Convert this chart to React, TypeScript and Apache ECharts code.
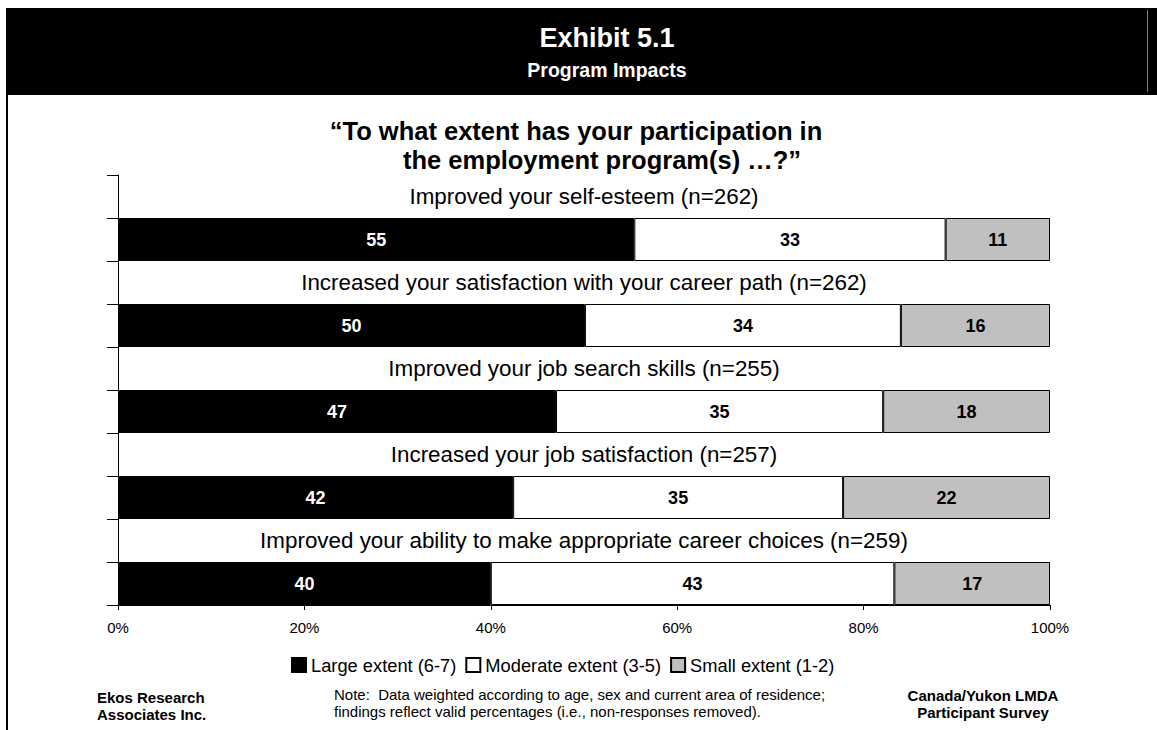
import React, { useEffect, useRef } from "react";
import * as echarts from "echarts";

const categories = [
  "Improved your self-esteem (n=262)",
  "Increased your satisfaction with your career path (n=262)",
  "Improved your job search skills (n=255)",
  "Increased your job satisfaction (n=257)",
  "Improved your ability to make appropriate career choices (n=259)",
];
const largeExtent = [55.4, 50.1, 47.0, 42.4, 40.0];
const moderateExtent = [33.4, 33.9, 35.1, 35.4, 43.3];
const smallExtent = [11.2, 16.0, 17.9, 22.2, 16.7];
const seriesNames = ["Large extent (6-7)", "Moderate extent (3-5)", "Small extent (1-2)"];
const seriesColors = ["#000000", "#ffffff", "#c0c0c0"];

const FONT = "Arial, 'Liberation Sans', sans-serif";

export default function App() {
  const ref = useRef<HTMLDivElement>(null);
  useEffect(() => {
    if (!ref.current) return;
    const chart = echarts.init(ref.current, null, { renderer: "svg" });
    const rowIds: string[] = [];
    categories.forEach((_, i) => {
      rowIds.push("label" + i);
      rowIds.push("bar" + i);
    });
    const barData = (vals: number[]) =>
      rowIds.map((id) => (id.startsWith("bar") ? vals[Number(id.slice(3))] : "-"));
    const labelData = rowIds.map((id) => (id.startsWith("label") ? 100 : "-"));

    const valueSeries = [largeExtent, moderateExtent, smallExtent].map((vals, k) => ({
      name: seriesNames[k],
      type: "bar",
      stack: "total",
      barCategoryGap: "0%",
      silent: true,
      data: barData(vals),
      itemStyle: { color: seriesColors[k], borderColor: "#000", borderWidth: 1 },
      label: {
        show: true,
        position: "inside",
        formatter: (p: any) => String(Math.round(p.value)),
        color: k === 0 ? "#fff" : "#000",
        fontWeight: "bold",
        fontSize: 18,
        fontFamily: FONT,
      },
    }));

    chart.setOption({
      animation: false,
      grid: { left: 118, top: 175, width: 932, height: 430, containLabel: false },
      legend: {
        data: seriesNames,
        left: 286,
        top: 651,
        icon: "rect",
        itemWidth: 14,
        itemHeight: 14,
        itemGap: 9,
        selectedMode: false,
        textStyle: { fontSize: 18.3, color: "#000", fontFamily: FONT },
      },
      xAxis: {
        type: "value",
        min: 0,
        max: 100,
        interval: 20,
        splitLine: { show: false },
        axisLine: { show: true, lineStyle: { color: "#000", width: 1 } },
        axisTick: { show: true, length: 5, lineStyle: { color: "#000" } },
        axisLabel: {
          formatter: "{value}%",
          fontSize: 15,
          color: "#000",
          fontFamily: FONT,
          margin: 15,
        },
      },
      yAxis: {
        type: "category",
        inverse: true,
        data: rowIds,
        axisLine: { show: true, lineStyle: { color: "#000", width: 1 } },
        axisTick: { show: true, length: 11, lineStyle: { color: "#000" } },
        axisLabel: { show: false },
        splitLine: { show: false },
      },
      series: [
        ...valueSeries,
        {
          name: "rowLabel",
          type: "bar",
          stack: "total",
          barCategoryGap: "0%",
          silent: true,
          data: labelData,
          itemStyle: { color: "rgba(0,0,0,0)" },
          label: {
            show: true,
            position: "inside",
            formatter: (p: any) => categories[Number(String(p.name).slice(5))],
            color: "#000",
            fontSize: 22.4,
            fontFamily: FONT,
          },
        },
      ],
      graphic: [
        { type: "rect", shape: { x: 6, y: 8, width: 1151, height: 87 }, style: { fill: "#000" } },
        { type: "line", shape: { x1: 1147.5, y1: 10, x2: 1147.5, y2: 92 }, style: { stroke: "#808080", lineWidth: 1 } },
        { type: "rect", shape: { x: 6, y: 95, width: 2, height: 635 }, style: { fill: "#000" } },
        {
          type: "text", x: 607, y: 38,
          style: { text: "Exhibit 5.1", fill: "#fff", font: `bold 27px ${FONT}`, textAlign: "center", textVerticalAlign: "middle" },
        },
        {
          type: "text", x: 607, y: 70,
          style: { text: "Program Impacts", fill: "#fff", font: `bold 19.5px ${FONT}`, textAlign: "center", textVerticalAlign: "middle" },
        },
        {
          type: "text", x: 576, y: 131,
          style: { text: "\u201cTo what extent has your participation in", fill: "#000", font: `bold 25.5px ${FONT}`, textAlign: "center", textVerticalAlign: "middle" },
        },
        {
          type: "text", x: 602, y: 160,
          style: { text: "the employment program(s) \u2026?\u201d", fill: "#000", font: `bold 25.5px ${FONT}`, textAlign: "center", textVerticalAlign: "middle" },
        },
        {
          type: "text", x: 97, y: 689,
          style: { text: "Ekos Research\nAssociates Inc.", fill: "#000", font: `bold 15px ${FONT}`, lineHeight: 17, textAlign: "left", textVerticalAlign: "top" },
        },
        {
          type: "text", x: 334, y: 686,
          style: {
            text: "Note:  Data weighted according to age, sex and current area of residence;\nfindings reflect valid percentages (i.e., non-responses removed).",
            fill: "#000", font: `15px ${FONT}`, lineHeight: 17, textAlign: "left", textVerticalAlign: "top",
          },
        },
        {
          type: "text", x: 983, y: 687,
          style: { text: "Canada/Yukon LMDA\nParticipant Survey", fill: "#000", font: `bold 15px ${FONT}`, lineHeight: 17, textAlign: "center", textVerticalAlign: "top" },
        },
      ],
    });
    return () => chart.dispose();
  }, []);
  return (
    <div
      ref={ref}
      style={{ position: "absolute", left: 0, top: 0, width: 1157, height: 730, background: "#fff" }}
    />
  );
}
